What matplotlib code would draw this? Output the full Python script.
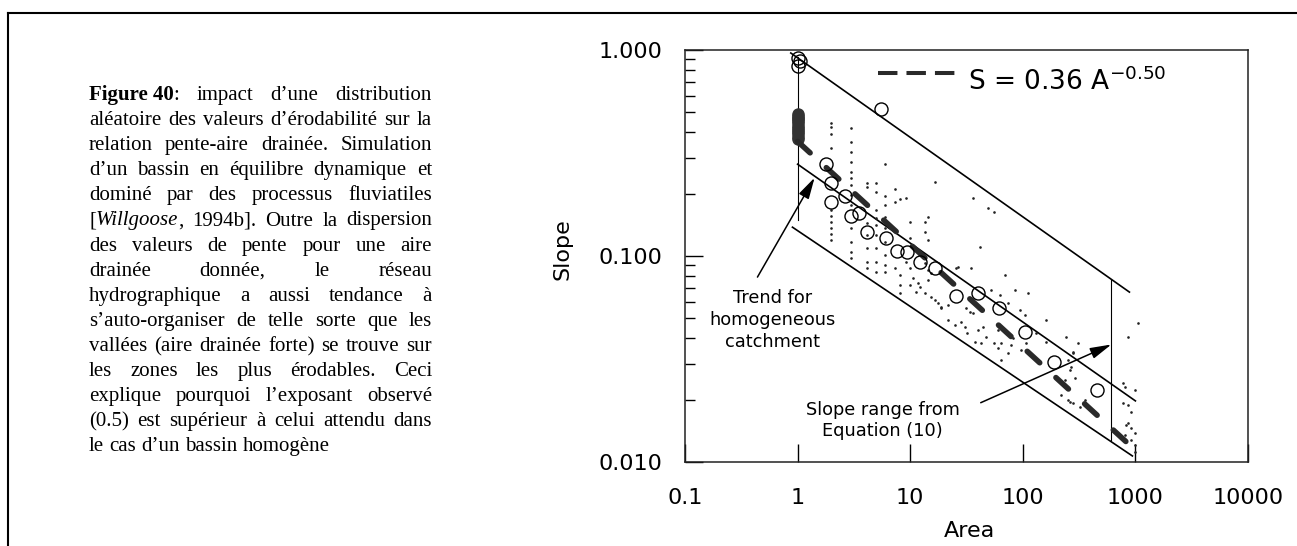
import re
import numpy as np
import matplotlib
matplotlib.use("Agg")
import matplotlib.pyplot as plt
from matplotlib.lines import Line2D
from matplotlib.ticker import LogLocator, NullLocator, NullFormatter

plt.rcParams["lines.scale_dashes"] = False
plt.rcParams["font.family"] = ["DejaVu Sans"]

# ---------------- data ----------------
x_ticks = [0.1, 1, 10, 100, 1000, 10000]
x_tick_labels = ["0.1", "1", "10", "100", "1000", "10000"]
y_ticks = [0.01, 0.1, 1.0]
y_tick_labels = ["0.010", "0.100", "1.000"]

# open circles
circle_area = [1.0, 1.0, 1.04, 5.5, 1.8, 1.97, 1.97, 2.65, 2.96, 3.48, 4.1,
               6.1, 7.6, 9.3, 12.3, 16.5, 25.5, 40, 62, 105, 190, 460]
circle_slope = [0.91, 0.84, 0.88, 0.52, 0.28, 0.226, 0.183, 0.195, 0.156, 0.162, 0.131,
                0.122, 0.106, 0.105, 0.094, 0.087, 0.064, 0.066, 0.056, 0.043, 0.0306, 0.0223]

# dense cluster of hillslope pixels at A = 1
blob_area = [1, 1, 1, 1, 1, 1, 1, 1, 1, 1, 1, 1, 1]
blob_slope = [0.49, 0.48, 0.47, 0.46, 0.45, 0.44, 0.43, 0.42, 0.41, 0.40, 0.39, 0.38, 0.37]

# small scatter dots
dot_area = [
    2.0, 2.0, 2.0, 2.0, 2.0, 2.0, 2.0, 2.0, 2.0, 2.0,
    3.0, 3.0, 3.0, 3.0, 3.0, 3.0, 3.0, 3.0, 3.0, 3.0, 3.0, 3.0, 3.0,
    4.1, 4.1, 4.1, 4.1, 4.1, 4.1, 4.1,
    5.0, 5.0, 5.0, 5.0, 5.0, 5.0, 5.0, 5.0, 5.0,
    6.0, 6.0, 6.0, 6.0, 6.0, 6.0, 6.0, 6.0, 6.0,
    7.3, 7.3, 7.3, 8.2, 9.1, 9.1, 10, 10, 10, 13.4, 13.4, 13.4, 14.3, 14.3, 14.3, 16.5, 25.4,
    8.2, 8.2, 8.2, 10.5, 12.1, 16.5, 18.7, 21.5, 24.8, 28,
    36, 49, 56, 41.5, 34.5, 69, 85, 111, 62.5, 52, 74, 31, 36, 94, 104, 160, 30.5, 40, 44, 32,
    47, 37.4, 42.4, 56, 63.7, 78, 60, 131, 241, 308, 96, 74, 106, 278, 858,
    10, 11.7, 14.3, 15.2, 11.2, 13.4, 15.2, 17.6, 18.7, 21.5, 26.5, 33.8, 81.5, 60, 63.7, 160,
    251, 267, 236, 290, 251, 278, 321, 356, 1052, 990, 807, 858, 912, 824, 912, 1000, 912, 990, 990,
    262, 218, 262, 774, 774, 278, 858, 807,
]
dot_slope = [
    0.442, 0.423, 0.391, 0.334, 0.167, 0.156, 0.146, 0.137, 0.128, 0.120,
    0.418, 0.357, 0.320, 0.286, 0.256, 0.239, 0.221, 0.198, 0.177, 0.137, 0.117, 0.105, 0.098,
    0.226, 0.216, 0.145, 0.126, 0.109, 0.0935, 0.0875,
    0.226, 0.205, 0.167, 0.153, 0.141, 0.126, 0.109, 0.0935, 0.0836,
    0.280, 0.196, 0.177, 0.155, 0.137, 0.117, 0.101, 0.0904, 0.0836,
    0.211, 0.183, 0.0875, 0.189, 0.191, 0.0935, 0.146, 0.122, 0.0875, 0.146, 0.131, 0.0925,
    0.155, 0.120, 0.0855, 0.229, 0.0875,
    0.0805, 0.0723, 0.066, 0.078, 0.0706, 0.0611, 0.0566, 0.0489, 0.0463, 0.0478,
    0.191, 0.171, 0.164, 0.111, 0.0875, 0.081, 0.0684, 0.066, 0.0647, 0.0684, 0.0591, 0.056,
    0.0529, 0.0547, 0.0517, 0.0489, 0.0452, 0.0437, 0.0452, 0.0423,
    0.0404, 0.0383, 0.0378, 0.0378, 0.0378, 0.037, 0.0357, 0.0423, 0.0404, 0.0378, 0.035,
    0.0338, 0.0378, 0.0338, 0.0404,
    0.0723, 0.074, 0.0764, 0.0827, 0.0669, 0.066, 0.0632, 0.0591, 0.056, 0.0578, 0.0885,
    0.0535, 0.04, 0.0437, 0.0313, 0.0383,
    0.0313, 0.0289, 0.025, 0.0256, 0.02, 0.0193, 0.0185, 0.02, 0.0473, 0.0224, 0.0231, 0.0189,
    0.0175, 0.0151, 0.0146, 0.0138, 0.0128, 0.0121, 0.0112,
    0.028, 0.0212, 0.0196, 0.0242, 0.0193, 0.0342, 0.0154, 0.0135,
]

# fitted relation S = 0.36 A^-0.50 (end points read on the plot)
fit_area = [1.0, 860]
fit_slope = [0.36, 0.0123]

# slope range from Equation (10) and trend for homogeneous catchment
upper_area, upper_slope = [0.87, 885], [0.967, 0.0668]
trend_area, trend_slope = [1.0, 1000], [0.279, 0.0198]
lower_area, lower_slope = [0.90, 940], [0.138, 0.0107]
left_bound_area, left_bound_slope = [1.0, 1.0], [0.92, 0.15]
right_bound_area, right_bound_slope = [612, 612], [0.0764, 0.0128]

# annotations (text centre, arrow tail, arrow tip)
trend_text_pos = (0.596, 0.049)
trend_arrow_tail, trend_arrow_tip = (0.44, 0.079), (1.416, 0.24)
range_text_pos = (5.7, 0.0159)
range_arrow_tail, range_arrow_tip = (42.3, 0.0194), (612, 0.0372)

legend_label = r"S = 0.36 A$^{\mathregular{-0.50}}$"

caption_lines = [
    "**Figure\u00a040**: impact d\u2019une distribution",
    "al\u00e9atoire des valeurs d\u2019\u00e9rodabilit\u00e9 sur la",
    "relation pente-aire drain\u00e9e. Simulation",
    "d\u2019un bassin en \u00e9quilibre dynamique et",
    "domin\u00e9 par des processus fluviatiles",
    "[*Willgoose*, 1994b]. Outre la dispersion",
    "des valeurs de pente pour une aire",
    "drain\u00e9e donn\u00e9e, le r\u00e9seau",
    "hydrographique a aussi tendance \u00e0",
    "s\u2019auto-organiser de telle sorte que les",
    "vall\u00e9es (aire drain\u00e9e forte) se trouve sur",
    "les zones les plus \u00e9rodables. Ceci",
    "explique pourquoi l\u2019exposant observ\u00e9",
    "(0.5) est sup\u00e9rieur \u00e0 celui attendu dans",
    "le cas d\u2019un bassin homog\u00e8ne",
]

# ---------------- figure ----------------
W, H, DPI = 1297, 546, 100
fig = plt.figure(figsize=(W / DPI, H / DPI), dpi=DPI, facecolor="white")
renderer = fig.canvas.get_renderer()

# outer frame (top and left rules)
fig.add_artist(Line2D([7.5 / W, 1.0], [1 - 12.5 / H, 1 - 12.5 / H],
                      transform=fig.transFigure, color="black", lw=1.5))
fig.add_artist(Line2D([7.5 / W, 7.5 / W], [0.0, 1 - 12.5 / H],
                      transform=fig.transFigure, color="black", lw=1.5))

# ---- justified caption ----
cap_left, cap_right = 89, 432
cap_base0, cap_step = 100, 25.1
cap_fs = 15


def runs_of(word):
    out = []
    for m in re.finditer(r"\*\*(.+?)\*\*|\*(.+?)\*|([^*]+)", word):
        if m.group(1):
            out.append((m.group(1), "bold", "normal"))
        elif m.group(2):
            out.append((m.group(2), "normal", "italic"))
        else:
            out.append((m.group(3), "normal", "normal"))
    return out


space_w = 0.25 * cap_fs * DPI / 72
for i, line in enumerate(caption_lines):
    yb = 1 - (cap_base0 + i * cap_step) / H
    items = []
    for w in line.split(" "):
        runs = []
        for s, wt, st in runs_of(w):
            t = fig.text(0, yb, s, fontsize=cap_fs, family=["Liberation Serif", "DejaVu Serif"],
                         fontweight=wt, fontstyle=st, ha="left", va="baseline")
            runs.append((t, t.get_window_extent(renderer).width))
        items.append(runs)
    total = sum(wd for runs in items for _, wd in runs)
    if i == len(caption_lines) - 1 or len(items) == 1:
        gap = space_w
    else:
        gap = (cap_right - cap_left - total) / (len(items) - 1)
    x = cap_left
    for runs in items:
        for t, wd in runs:
            t.set_x(x / W)
            x += wd
        x += gap

# ---- axes ----
ax_l, ax_r, ax_t, ax_b = 685, 1248, 50, 462
ax = fig.add_axes([ax_l / W, 1 - ax_b / H, (ax_r - ax_l) / W, (ax_b - ax_t) / H])
ax.set_xscale("log")
ax.set_yscale("log")
ax.set_xlim(x_ticks[0], x_ticks[-1])
ax.set_ylim(y_ticks[0], y_ticks[-1])
ax.set_xticks(x_ticks, x_tick_labels)
ax.set_yticks(y_ticks, y_tick_labels)
ax.xaxis.set_minor_locator(NullLocator())
ax.yaxis.set_minor_locator(LogLocator(base=10, subs=np.arange(2, 10)))
ax.yaxis.set_minor_formatter(NullFormatter())
ax.tick_params(which="major", direction="in", length=13, width=1.0, labelsize=16,
               top=False, right=False, colors="black")
ax.tick_params(which="minor", direction="in", length=7, width=1.0, top=False, right=False)
ax.tick_params(axis="x", pad=19)
ax.tick_params(axis="y", pad=16)
for sp in ax.spines.values():
    sp.set_linewidth(1.1)
    sp.set_color("#222222")

ax.set_xlabel("Area", fontsize=16)
ax.set_ylabel("Slope", fontsize=16)
ax.xaxis.set_label_coords(0.506, -0.143)
ax.yaxis.set_label_coords(-0.20, 0.517)

# range lines
ax.plot(upper_area, upper_slope, color="black", lw=1.2)
ax.plot(trend_area, trend_slope, color="black", lw=1.2)
ax.plot(lower_area, lower_slope, color="black", lw=1.2)
ax.plot(left_bound_area, left_bound_slope, color="black", lw=0.8)
ax.plot(right_bound_area, right_bound_slope, color="black", lw=0.8)

# scatter dots
ax.plot(dot_area, dot_slope, linestyle="none", marker="o", ms=1.9, mew=0,
        color="#222222")
# dense cluster at A = 1
ax.plot(blob_area, blob_slope, linestyle="none", marker="o", ms=9, mew=0,
        color="#333333")
# fitted dashed relation
ax.plot(fit_area, fit_slope, color="#2a2a2a", lw=4.0, dashes=(12.2, 15.8),
        dash_capstyle="round")
# open circles
ax.plot(circle_area, circle_slope, linestyle="none", marker="o", ms=9.4,
        mfc="none", mec="black", mew=1.0)

# legend
proxy = Line2D([], [], color="#2a2a2a", lw=2.9, dashes=(14, 6.5), dash_capstyle="butt")
leg = ax.legend([proxy], [legend_label], loc="upper left", bbox_to_anchor=(0.343, 0.957),
                frameon=False, fontsize=19, handlelength=2.95, handletextpad=0.45,
                borderpad=0, borderaxespad=0)
for hl in leg.legend_handles:
    hl.set_ydata(np.asarray(hl.get_ydata(), dtype=float) + 5.8)

# annotations
arrow_kw = dict(arrowstyle="-|>,head_length=0.65,head_width=0.17", color="black",
                lw=1.1, shrinkA=0, shrinkB=0, mutation_scale=20)
ax.annotate("", xy=trend_arrow_tip, xytext=trend_arrow_tail, arrowprops=arrow_kw)
ax.annotate("", xy=range_arrow_tip, xytext=range_arrow_tail, arrowprops=arrow_kw)
ax.text(*trend_text_pos, "Trend for\nhomogeneous\ncatchment", ha="center", va="center",
        fontsize=12.8, linespacing=1.28)
ax.text(*range_text_pos, "Slope range from\nEquation (10)", ha="center", va="center",
        fontsize=12.8, linespacing=1.22)

fig.savefig("out.png", dpi=DPI, facecolor="white")
